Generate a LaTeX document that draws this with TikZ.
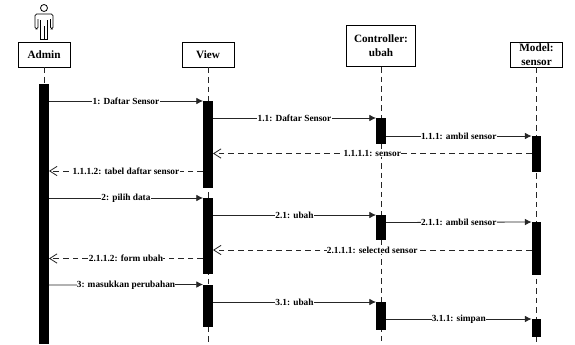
\documentclass[tikz,border=0pt]{standalone}
\usepackage{fontspec}
\setmainfont{Liberation Serif}
\usetikzlibrary{arrows.meta}
\tikzset{
  px/.style={x=0.75pt,y=-0.75pt},
  headbox/.style={draw=black,line width=0.6pt,fill=white,inner sep=0pt,align=center,font=\bfseries\fontsize{8.4}{10.5}\selectfont},
  bar/.style={fill=black,draw=none,inner sep=0pt,minimum width=7.1pt},
  life/.style={draw=black!85,line width=0.55pt,dash pattern=on 4.2pt off 3pt},
  msg/.style={draw=black!85,line width=0.6pt,-{Latex[length=5pt,width=5pt]}},
  ret/.style={draw=black!85,line width=0.6pt,dash pattern=on 4.2pt off 3pt,-{Straight Barb[length=5.5pt,width=7pt]}},
  lbl/.style={midway,fill=white,inner sep=0.2pt,text=black,font=\bfseries\fontsize{7}{7.5}\selectfont}
}
\newcommand{\barnode}[4]{\node[bar,minimum height={(#4-#3)*0.75pt},anchor=north] (#1) at (#2,#3) {};}
\begin{document}
\begin{tikzpicture}[px]
\useasboundingbox (0,0) rectangle (575,344);
% heads
\node[headbox,minimum width=39pt,minimum height=18.7pt] (admin) at (44,54.5) {Admin};
\node[headbox,minimum width=39pt,minimum height=18.7pt] (view) at (208,54.5) {View};
\node[headbox,minimum width=52pt,minimum height=31pt] (ctrl) at (381,46) {Controller:\\ubah};
\node[headbox,minimum width=39pt,minimum height=18.7pt] (model) at (536.5,54.5) {Model:\\sensor};
% lifeline ends
\coordinate (adminEnd) at (44,344);
\coordinate (viewEnd) at (208,344);
\coordinate (ctrlEnd) at (381,344);
\coordinate (modelEnd) at (536.5,344);
\draw[life] (admin.south) -- (adminEnd);
\draw[life] (view.south) -- (viewEnd);
\draw[life] (ctrl.south) -- (ctrlEnd);
\draw[life] (model.south) -- (modelEnd);
% activation bars
\barnode{aA}{44}{84}{344}
\barnode{vA}{208}{101}{188}
\barnode{vB}{208}{198}{274}
\barnode{vC}{208}{284.5}{327}
\barnode{cA}{381}{118}{144}
\barnode{cB}{381}{215}{240}
\barnode{cC}{381}{302}{330}
\barnode{mA}{536.5}{136}{172}
\barnode{mB}{536.5}{222}{275}
\barnode{mC}{536.5}{319}{337}
% messages
\draw[msg] (aA.north east |- 0,101) -- node[lbl]{1: Daftar Sensor} (vA.north west);
\draw[msg] (vA.east |- 0,118) -- node[lbl]{1.1: Daftar Sensor} (cA.north west);
\draw[msg] (cA.east |- 0,136) -- node[lbl]{1.1.1: ambil sensor} (mA.north west);
\draw[ret] (mA.west |- 0,153.5) -- node[lbl]{1.1.1.1: sensor} (vA.east |- 0,153.5);
\draw[ret] (vA.south west |- 0,171) -- node[lbl]{1.1.1.2: tabel daftar sensor} (aA.east |- 0,171);
\draw[msg] (aA.east |- 0,198) -- node[lbl]{2: pilih data} (vB.north west);
\draw[msg] (vB.east |- 0,215) -- node[lbl]{2.1: ubah} (cB.north west);
\draw[msg] (cB.east |- 0,222.5) -- node[lbl]{2.1.1: ambil sensor} (mB.north west);
\draw[ret] (mB.west |- 0,250) -- node[lbl]{2.1.1.1: selected sensor} (vB.east |- 0,250);
\draw[ret] (vB.west |- 0,258.5) -- node[lbl]{2.1.1.2: form ubah} (aA.east |- 0,258.5);
\draw[msg] (aA.east |- 0,285) -- node[lbl]{3: masukkan perubahan} (vC.north west);
\draw[msg] (vC.east |- 0,302) -- node[lbl]{3.1: ubah} (cC.north west);
\draw[msg] (cC.east |- 0,319) -- node[lbl]{3.1.1: simpan} (mC.north west);
% actor
\draw[line width=0.6pt] (44,8) circle (3.5);
\draw[line width=0.6pt,rounded corners=1.2pt] (38,19) -- (38,29) -- (35,29) -- (35,14) -- (53,14) -- (53,29) -- (50.5,29) -- (50.5,19);
\draw[line width=0.6pt] (40.5,20) -- (40.5,39.5) -- (47.5,39.5) -- (47.5,20);
\coordinate (legTop) at (44,26);
\coordinate (legBot) at (44,39.5);
\draw[line width=0.7pt] (legTop) -- (legBot);
\end{tikzpicture}
\end{document}
